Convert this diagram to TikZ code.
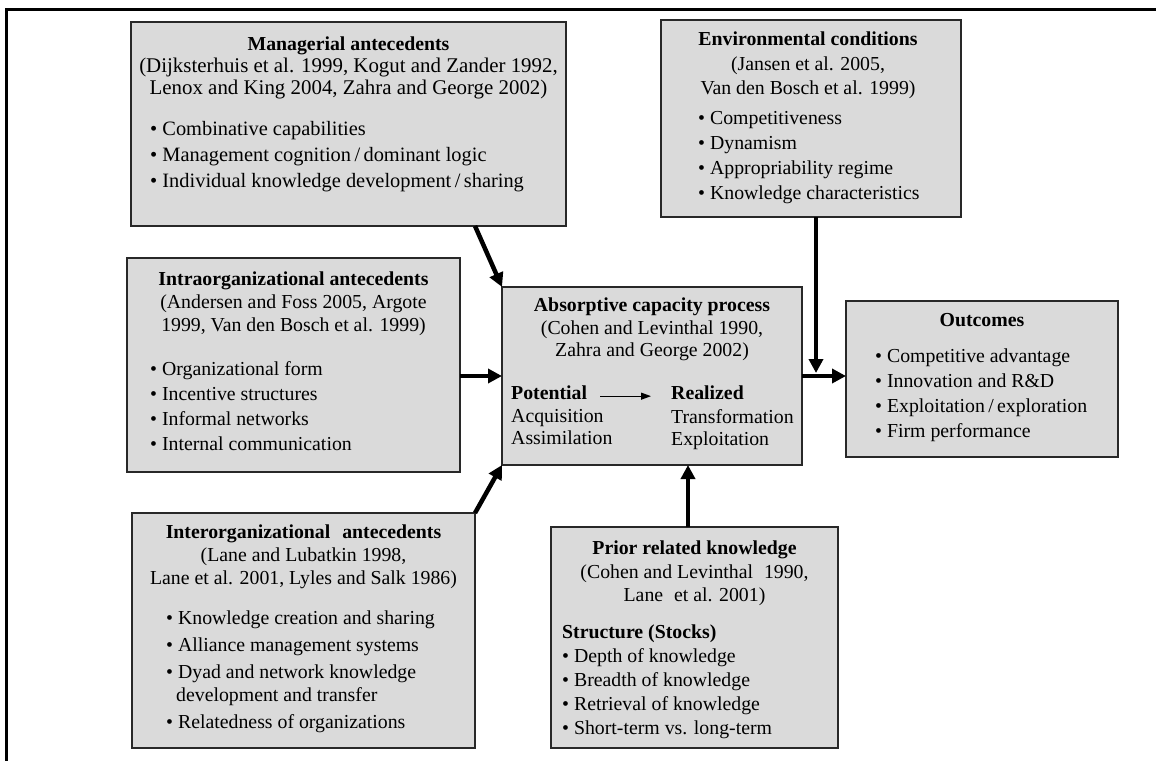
\documentclass[tikz,border=0pt]{standalone}
\usepackage{fontspec}
\setmainfont{Liberation Serif}
\usetikzlibrary{arrows.meta}
\definecolor{boxgray}{RGB}{218,218,218}
\definecolor{edgegray}{RGB}{40,40,40}

\tikzset{
  box/.style={draw=edgegray, line width=1.4pt, fill=boxgray, inner sep=0pt, outer sep=0pt},
  hd/.style={anchor=north, align=center, inner sep=0pt, font=\fontsize{19.8}{23}\selectfont},
  ls/.style={anchor=north west, align=left, inner sep=0pt, font=\fontsize{19.8}{25}\selectfont},
  flow/.style={line width=4.5pt, -{Triangle[length=14pt,width=14pt]}},
}

\begin{document}
\begin{tikzpicture}[x=1pt, y=-1pt]
  \useasboundingbox (0,0) rectangle (1156,761);
  \draw[line width=3pt] (1156,9) -- (6,9) -- (6,761);

  % boxes
  \node[box, minimum width=435, minimum height=204] (mgr)   at (348.5,124) {};
  \node[box, minimum width=300, minimum height=197] (env)   at (811,118.5) {};
  \node[box, minimum width=333, minimum height=214] (intra) at (293.5,365) {};
  \node[box, minimum width=300, minimum height=178] (acap)  at (652,376) {};
  \node[box, minimum width=272, minimum height=156] (outc)  at (982,379) {};
  \node[box, minimum width=343, minimum height=235] (inter) at (303.5,630.5) {};
  \node[box, minimum width=287, minimum height=221] (prior) at (694.5,637.5) {};

  % managerial antecedents
  \node[hd, font=\fontsize{20.9}{22}\selectfont] (mgr-hd) at (348.5,37) {{\fontsize{19.8}{22}\selectfont\textbf{Managerial antecedents}}\\(Dijksterhuis et al. 1999, Kogut and Zander 1992,\\Lenox and King 2004, Zahra and George 2002)};
  \node[ls, font=\fontsize{20.4}{26}\selectfont] (mgr-ls) at (150,121) {\textbullet\ Combinative capabilities\\\textbullet\ Management cognition\,/\,dominant logic\\\textbullet\ Individual knowledge development\,/\,sharing};

  % environmental conditions
  \node[hd, font=\fontsize{19.8}{24.5}\selectfont] (env-hd) at (808,32) {\textbf{Environmental conditions}\\(Jansen et al. 2005,\\Van den Bosch et al. 1999)};
  \node[ls] (env-ls) at (698,111) {\textbullet\ Competitiveness\\\textbullet\ Dynamism\\\textbullet\ Appropriability regime\\\textbullet\ Knowledge characteristics};

  % intraorganizational antecedents
  \node[hd] (intra-hd) at (293.5,272) {\textbf{Intraorganizational antecedents}\\(Andersen and Foss 2005, Argote\\1999, Van den Bosch et al. 1999)};
  \node[ls] (intra-ls) at (150,361) {\textbullet\ Organizational form\\\textbullet\ Incentive structures\\\textbullet\ Informal networks\\\textbullet\ Internal communication};

  % absorptive capacity process
  \node[hd, font=\fontsize{19.8}{22.5}\selectfont] (acap-hd) at (652,298) {\textbf{Absorptive capacity process}\\(Cohen and Levinthal 1990,\\Zahra and George 2002)};
  \node[anchor=north west, inner sep=0pt, font=\fontsize{19.8}{22.5}\selectfont\bfseries] (pot) at (511,386) {Potential};
  \node[anchor=north west, inner sep=0pt, font=\fontsize{19.8}{22.5}\selectfont\bfseries] (rea) at (671,386) {Realized};
  \node[ls, font=\fontsize{19.8}{22.5}\selectfont] (pot-ls) at (511,409) {Acquisition\\Assimilation};
  \node[ls, font=\fontsize{19.8}{22.5}\selectfont] (rea-ls) at (671,409) {Transformation\\Exploitation};
  \draw[line width=1.2pt, -{Triangle[length=10pt,width=7pt]}] ([xshift=13,yshift=-3]pot.east) -- ([xshift=-20,yshift=-3]rea.west);

  % outcomes
  \node[hd] (outc-hd) at (982,313) {\textbf{Outcomes}};
  \node[ls, font=\fontsize{19.8}{24.7}\selectfont] (outc-ls) at (875,349) {\textbullet\ Competitive advantage\\\textbullet\ Innovation and R\&D\\\textbullet\ Exploitation\,/\,exploration\\\textbullet\ Firm performance};

  % interorganizational antecedents
  \node[hd] (inter-hd) at (303.5,525) {\textbf{Interorganizational\hspace{0.6em}antecedents}\\(Lane and Lubatkin 1998,\\Lane et al. 2001, Lyles and Salk 1986)};
  \node[ls, font=\fontsize{19.8}{27}\selectfont] (inter-ls) at (166,611) {\textbullet\ Knowledge creation and sharing\\\textbullet\ Alliance management systems\\\textbullet\ Dyad and network knowledge\\[-4pt]\hspace{10pt}development and transfer\\\textbullet\ Relatedness of organizations};

  % prior related knowledge
  \node[hd, font=\fontsize{19.8}{23.5}\selectfont] (prior-hd) at (694.5,541) {\textbf{Prior related knowledge}\\(Cohen and Levinthal\hspace{0.3em} 1990,\\Lane\hspace{0.3em} et al. 2001)};
  \node[ls, font=\fontsize{19.8}{24}\selectfont] (prior-ls) at (562,625) {\textbf{Structure (Stocks)}\\\textbullet\ Depth of knowledge\\\textbullet\ Breadth of knowledge\\\textbullet\ Retrieval of knowledge\\\textbullet\ Short-term vs. long-term};

  % connectors
  \coordinate (junc) at ([xshift=14]acap.east);
  \draw[flow] ([xshift=126.5]mgr.south) -- (acap.north west);
  \draw[flow] (intra.east |- acap.west) -- (acap.west);
  \draw[flow] (inter.north east) -- (acap.south west);
  \draw[flow] ([xshift=36]acap.south |- prior.north) -- ([xshift=36]acap.south);
  \draw[flow] (acap.east) -- (acap.east -| outc.west);
  \draw[flow] (env.south -| junc) -- ([yshift=3]junc);
\end{tikzpicture}
\end{document}
